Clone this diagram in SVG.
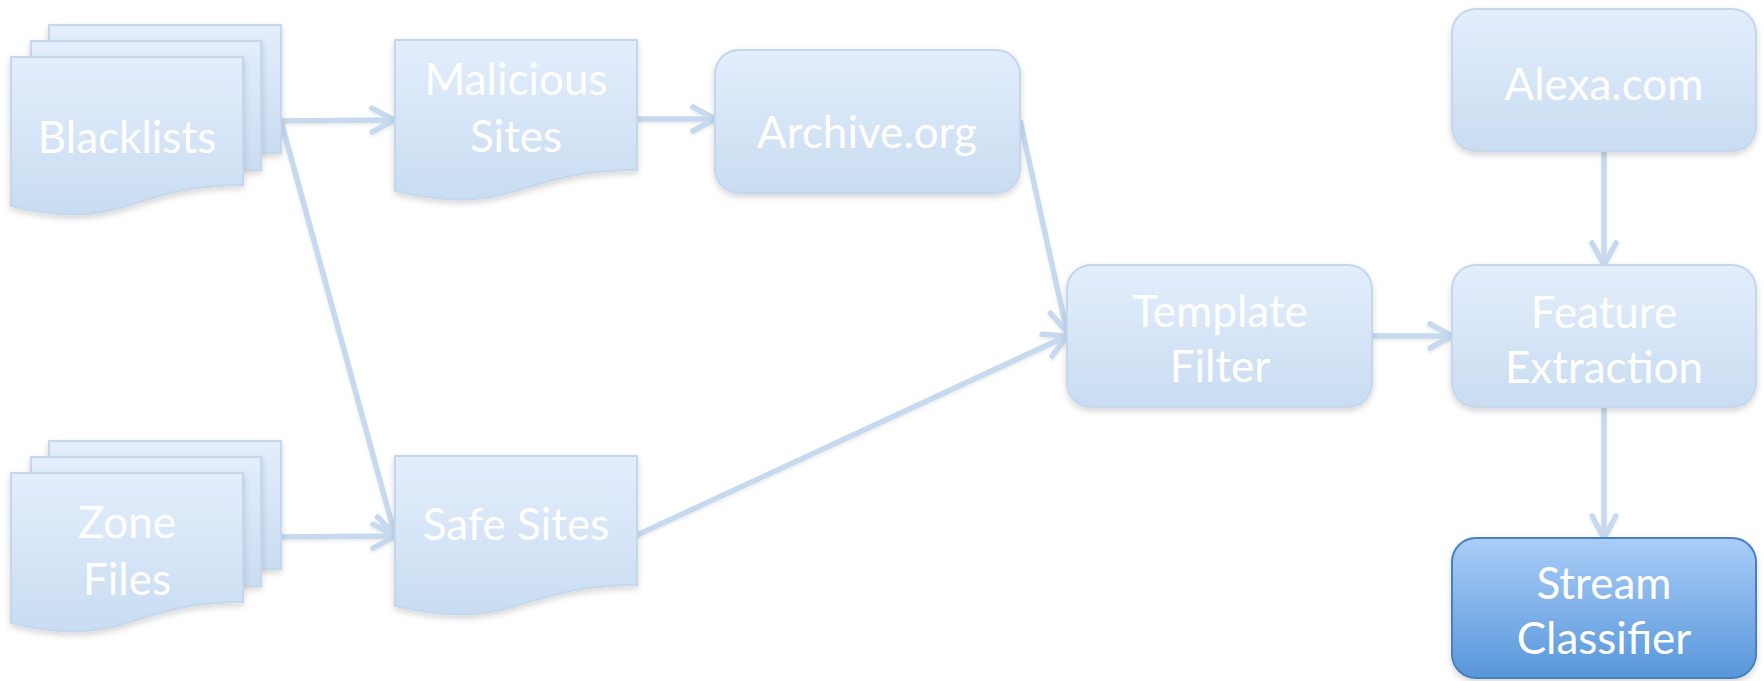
<svg xmlns="http://www.w3.org/2000/svg" width="1764" height="681" viewBox="0 0 1764 681">
<defs>
<linearGradient id="gl" x1="0" y1="0" x2="0" y2="1">
<stop offset="0" stop-color="#e3eefc"/>
<stop offset="1" stop-color="#c9dcf1"/>
</linearGradient>
<linearGradient id="gd" x1="0" y1="0" x2="0" y2="1">
<stop offset="0" stop-color="#aacdf8"/>
<stop offset="1" stop-color="#5796da"/>
</linearGradient>
<filter id="sh" x="-10%" y="-10%" width="125%" height="135%">
<feDropShadow dx="0" dy="3" stdDeviation="3" flood-color="#000" flood-opacity="0.16"/>
</filter>
<filter id="lsh" filterUnits="userSpaceOnUse" x="0" y="0" width="1764" height="681">
<feDropShadow dx="0" dy="2" stdDeviation="1.5" flood-color="#000" flood-opacity="0.08"/>
</filter>
<marker id="arr" markerUnits="userSpaceOnUse" markerWidth="40" markerHeight="40" viewBox="-30 -20 40 40" refX="0" refY="0" orient="auto">
<path d="M-22,-12 L0,0 L-22,12" fill="none" stroke="#c6d9ee" stroke-width="5.5" stroke-linecap="round" stroke-linejoin="round"/>
</marker>
</defs>
<style>
.n{fill:url(#gl);stroke:#c4d7ee;stroke-width:2;filter:url(#sh)}
.d{fill:url(#gd);stroke:#4a80c0;stroke-width:2;filter:url(#sh)}
.t{font-family:Lato,"Open Sans","Liberation Sans",sans-serif;font-size:44px;fill:#ffffff;text-anchor:middle}
.c{fill:none;stroke:#c6d9ee;stroke-width:5.5;marker-end:url(#arr)}
</style>
<rect width="1764" height="681" fill="#ffffff"/>
<g id="connectors" filter="url(#lsh)">
<path class="c" d="M281,121 L394,120"/>
<path class="c" d="M281,121 L395,535"/>
<path class="c" d="M281,537 L395,536"/>
<path class="c" d="M637,119 L715,119"/>
<path class="c" d="M1020,120 L1067,332"/>
<path class="c" d="M637,535 L1067,336"/>
<path class="c" d="M1372,336 L1452,336"/>
<path class="c" d="M1604,151 L1604,265"/>
<path class="c" d="M1604,407 L1604,538"/>
</g>
<g id="blacklists">
<rect class="n" x="49" y="25" width="232" height="128"/>
<rect class="n" x="31" y="41" width="230" height="129"/>
<path class="n" d="M11,57 H243 V185 C127,185 127,234 11,206 Z"/>
<text class="t" x="127" y="153">Blacklists</text>
</g>
<g id="zone-files">
<rect class="n" x="49" y="441" width="232" height="128"/>
<rect class="n" x="31" y="457" width="230" height="129"/>
<path class="n" d="M11,473 H243 V602 C127,602 127,651 11,623 Z"/>
<text class="t" x="127" y="538">Zone</text>
<text class="t" x="127" y="595">Files</text>
</g>
<g id="malicious-sites">
<path class="n" d="M395,40 H637 V170 C516,170 516,219 395,191 Z"/>
<text class="t" x="516" y="95">Malicious</text>
<text class="t" x="516" y="152">Sites</text>
</g>
<g id="safe-sites">
<path class="n" d="M395,456 H637 V585 C516,585 516,634 395,606 Z"/>
<text class="t" x="516" y="540">Safe Sites</text>
</g>
<g id="archive-org">
<rect class="n" x="715" y="50" width="305" height="143" rx="24"/>
<text class="t" x="867" y="148">Archive.org</text>
</g>
<g id="template-filter">
<rect class="n" x="1067" y="265" width="305" height="142" rx="24"/>
<text class="t" x="1220" y="327">Template</text>
<text class="t" x="1220" y="382">Filter</text>
</g>
<g id="alexa-com">
<rect class="n" x="1452" y="9" width="304" height="142" rx="24"/>
<text class="t" x="1604" y="100">Alexa.com</text>
</g>
<g id="feature-extraction">
<rect class="n" x="1452" y="265" width="304" height="142" rx="24"/>
<text class="t" x="1604" y="328">Feature</text>
<text class="t" x="1604" y="383">Extraction</text>
</g>
<g id="stream-classifier">
<rect class="d" x="1452" y="538" width="304" height="140" rx="24"/>
<text class="t" x="1604" y="599">Stream</text>
<text class="t" x="1604" y="654">Classifier</text>
</g>
</svg>
